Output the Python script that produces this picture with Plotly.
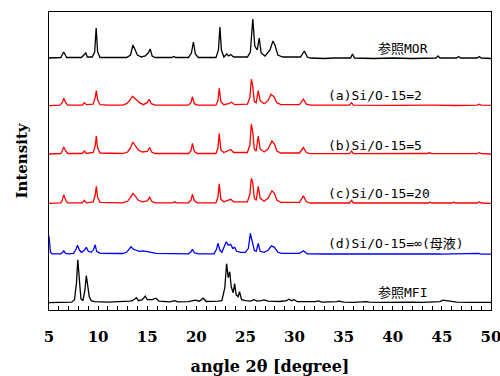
import plotly.graph_objects as go

# ---- data: 2theta (deg) and intensity above each pattern's baseline (a.u.) ----
mor_x = [5.0, 6.2, 6.5, 6.8, 8.3, 8.6, 8.75, 8.9, 9.4, 9.65, 9.8, 9.95, 10.2, 12.9, 13.3, 13.55, 13.7, 14.0, 14.4, 14.8,
         15.1, 15.3, 15.5, 15.8, 17.5, 17.7, 17.9, 19.2, 19.5, 19.7, 19.9, 20.2, 22.0, 22.25, 22.4, 22.55, 22.8, 23.1,
         23.3, 23.5, 23.8, 25.2, 25.5, 25.75, 25.95, 26.2, 26.4, 26.6, 27.0, 27.5, 27.8, 28.0, 28.3, 28.8, 30.6, 31.0,
         31.3, 31.6, 33.0, 34.0, 35.7, 35.9, 36.1, 38.0, 40.0, 42.0, 44.4, 44.6, 44.8, 46.5, 46.7, 46.9, 48.6, 48.8,
         49.0, 50.0]
mor_y = [0, 0.5, 6, 0.5, 0.5, 3, 5, 1, 1, 6, 30, 6, 0.5, 0.5, 3, 13, 10, 3, 1, 2,
         5, 9, 2, 0.5, 0.5, 1.5, 0.5, 0.5, 5, 16, 4, 0.5, 0.5, 8, 31, 8, 1, 4,
         2, 3.5, 1, 1, 6, 39, 12, 8, 20, 5, 2, 8, 17, 13, 3, 1, 1, 7,
         1, 0, -0.5, 0, 0, 4, 0, -0.5, 0, -0.5, 0, 2, 0, 0, 1.5, 0, 0, 1.5,
         0, -0.5]

a_x = [5.0, 6.1, 6.35, 6.5, 6.7, 6.9, 8.4, 8.6, 8.8, 9.5, 9.7, 9.82, 9.95, 10.2, 11.0, 12.5, 12.9, 13.2, 13.5, 13.7,
       13.9, 14.2, 14.6, 15.0, 15.2, 15.4, 15.8, 19.2, 19.45, 19.6, 19.8, 20.1, 22.0, 22.2, 22.33, 22.5, 22.8, 23.3,
       23.6, 23.9, 25.2, 25.45, 25.6, 25.75, 25.9, 26.1, 26.3, 26.5, 26.9, 27.3, 27.6, 27.9, 28.2, 28.6, 30.5, 30.9,
       31.2, 31.6, 35.6, 35.8, 36.0, 40.0, 43.0, 43.6, 44.0, 46.5, 48.6, 48.8, 49.0, 50.0]
a_y = [0, 0.5, 3, 7.5, 3, 0.5, 0.5, 3, 1, 1.5, 8, 15, 6, 1, 0.5, 0.5, 2, 5, 9.5, 8,
       6, 3, 1, 3, 6.5, 2, 0.5, 0.5, 3, 9, 2, 0.5, 0.5, 5, 17.5, 4, 1, 2,
       3.5, 1, 1.5, 8, 26.5, 19, 4, 3, 15, 5, 2, 5, 11.5, 9, 3, 1, 1, 6.5,
       1.5, 0.5, 0.5, 3, 0.5, 0.3, 0.3, 1.0, 0.5, 0.2, 0.5, 1.5, 0.5, 0.3]

b_x = [5.0, 6.2, 6.35, 6.5, 6.7, 6.9, 8.4, 8.6, 8.8, 9.5, 9.7, 9.82, 9.95, 10.2, 12.5, 13.0, 13.3, 13.55, 13.8, 14.1,
       14.5, 15.0, 15.25, 15.45, 15.8, 19.2, 19.45, 19.6, 19.8, 20.1, 22.0, 22.2, 22.33, 22.5, 22.8, 23.2, 23.5, 23.8,
       25.2, 25.45, 25.6, 25.75, 25.9, 26.1, 26.3, 26.5, 26.9, 27.3, 27.7, 27.95, 28.2, 28.6, 30.5, 30.9, 31.2, 31.6,
       35.6, 35.8, 36.0, 43.5, 43.7, 44.0, 46.0, 46.2, 46.4, 48.6, 48.8, 49.0, 50.0]
b_y = [0, 0.5, 3, 7, 3, 0.5, 0.5, 3, 0.5, 1.5, 8, 18, 6, 1, 0.5, 2, 6, 12, 8, 4,
       2, 2.5, 6.5, 2, 0.5, 0.5, 3, 10.5, 2.5, 0.5, 0.5, 6, 20.5, 4, 1.5, 3, 4.5, 1.5,
       1.5, 9, 30, 22, 5, 3, 18, 5, 2, 5, 13, 10, 3, 1, 1, 6.5, 1.5, 0.3,
       0.3, 3, 0.3, 0.5, 1.2, 0.3, 0.3, 1, 0.3, 0.3, 1.5, 0.3, 0]

c_x = [5.0, 6.2, 6.35, 6.5, 6.7, 6.9, 8.4, 8.6, 8.8, 9.5, 9.7, 9.82, 9.95, 10.2, 12.5, 13.0, 13.3, 13.55, 13.8, 14.1,
       14.5, 15.0, 15.25, 15.45, 15.8, 17.6, 17.8, 18.0, 19.2, 19.45, 19.6, 19.8, 20.1, 22.0, 22.2, 22.33, 22.5, 22.8,
       23.2, 23.5, 23.8, 25.2, 25.45, 25.6, 25.75, 25.9, 26.1, 26.3, 26.5, 26.9, 27.3, 27.7, 27.95, 28.2, 28.6, 30.5,
       30.9, 31.2, 31.6, 35.6, 35.8, 36.0, 43.6, 43.8, 44.0, 46.0, 46.2, 46.4, 48.6, 48.8, 49.0, 50.0]
c_y = [0, 0.5, 3, 8.5, 3, 0.5, 0.5, 3, 0.5, 1.5, 8, 17, 6, 1, 0.5, 2, 6, 10, 7, 3,
       1.5, 2.5, 6, 2, 0.5, 0.5, 1.5, 0.5, 0.5, 3, 9, 2.5, 0.5, 0.5, 6, 19.5, 4, 1.5,
       3, 4, 1.5, 1.5, 9, 25, 20, 5, 3, 17, 5, 2, 5, 12.5, 10, 3, 1, 1,
       7.5, 1.5, 0.3, 0.3, 3, 0.3, 0.3, 1.2, 0.3, 0.3, 1.2, 0.3, 0.3, 1.5, 0.3, 0]

d_x = [5.0, 5.05, 5.15, 5.3, 6.2, 6.4, 6.5, 6.7, 7.0, 7.5, 7.75, 7.9, 8.1, 8.3, 8.6, 8.8, 9.0, 9.3, 9.55, 9.7,
       9.85, 10.2, 11.5, 12.5, 12.9, 13.2, 13.35, 13.6, 13.9, 14.2, 14.6, 15.0, 15.4, 15.9, 17.5, 19.2, 19.45, 19.6,
       19.8, 20.2, 21.8, 22.05, 22.2, 22.4, 22.6, 22.85, 23.05, 23.25, 23.5, 23.7, 23.9, 24.1, 24.5, 25.0, 25.3, 25.5,
       25.7, 25.9, 26.1, 26.3, 26.5, 26.9, 27.3, 27.65, 27.95, 28.3, 28.7, 30.5, 30.9, 31.3, 33.0, 36.0, 40.0, 44.6,
       45.0, 48.7, 49.0, 50.0]
d_y = [18, 10, 2, 0.5, 0.5, 2, 3.5, 1, 0.5, 1, 5, 9, 4, 2, 4, 7, 3, 2, 5, 9.5,
       3, 1, 0.5, 0.8, 2, 6, 7.5, 5, 4, 3, 3.5, 3, 2, 1, 0.5, 0.5, 2.5, 5,
       1.5, 0.5, 0.5, 5, 11, 4, 2, 8, 12.5, 9, 10, 6, 7, 3, 2, 2, 6, 21,
       12, 4, 3, 11, 3, 2, 4, 8.5, 7, 2, 1, 1, 3.5, 0.5, 0.3, 0.5, 0.3, 0.5,
       0.2, 1, 0.2, 0.2]

mfi_x = [5.0, 7.3, 7.6, 7.8, 7.93, 8.05, 8.25, 8.45, 8.65, 8.8, 8.95, 9.1, 9.3, 9.6, 11.0, 12.5, 13.2, 13.5, 13.9, 14.1,
         14.5, 14.8, 15.0, 15.5, 15.9, 16.2, 16.6, 17.3, 17.8, 18.1, 19.2, 19.9, 20.3, 20.7, 21.0, 21.8, 22.2, 22.6,
         22.9, 23.08, 23.25, 23.4, 23.55, 23.75, 23.9, 24.05, 24.25, 24.4, 24.6, 25.0, 25.5, 25.85, 26.2, 26.6, 26.9,
         27.3, 28.0, 28.5, 29.2, 29.4, 29.7, 29.95, 30.3, 31.0, 32.1, 32.4, 32.8, 34.3, 34.5, 35.0, 36.0, 37.3, 37.6,
         39.0, 40.0, 41.5, 42.0, 43.0, 44.8, 45.1, 45.5, 45.9, 46.5, 48.0, 49.0, 50.0]
mfi_y = [0, 0.5, 3, 20, 43, 25, 4, 2, 12, 27, 18, 6, 2, 1, 0.5, 0.8, 1.5, 2, 5, 2,
         3, 6.5, 3, 3, 4.5, 1.5, 1, 0.8, 2, 0.8, 1, 2.5, 1.5, 4.5, 1.2, 1, 1.5, 2,
         15, 39, 25, 31, 16, 10, 19, 8, 6, 11, 3, 2, 1.5, 3, 1.5, 2, 2.8,
         1.5, 1, 1.2, 2, 3.5, 2, 3, 1, 1, 1, 1.8, 0.5, 1, 1.5, 0.5, 0.3, 1, 0.5,
         0.3, 0.5, 0.3, 0.5, 0.3, 1, 2.5, 1.8, 0.8, 0.5, 0.3, 0.6, 0.3]

series_names = ["参照MOR", "(a)Si/O-15=2", "(b)Si/O-15=5", "(c)Si/O-15=20", "(d)Si/O-15=∞(母液)", "参照MFI"]
series_x = [mor_x, a_x, b_x, c_x, d_x, mfi_x]
series_y = [mor_y, a_y, b_y, c_y, d_y, mfi_y]
offsets = [252, 204.3, 156, 106.7, 55.7, 7.3]
label_y = [262, 215, 165, 117, 67, 18]
label_x = [38.3, 33.2, 33.2, 33.2, 33.2, 38.3]
colors = ["#000000", "#ff0000", "#ff0000", "#ff0000", "#0000ff", "#000000"]
x_ticks = [5, 10, 15, 20, 25, 30, 35, 40, 45, 50]

fig = go.Figure()
for name, xs, ys, off, col in zip(series_names, series_x, series_y, offsets, colors):
    fig.add_trace(go.Scatter(x=xs, y=[v + off for v in ys], mode="lines", name=name,
                             line=dict(color=col, width=1.3), showlegend=False))

for name, lx, ly in zip(series_names, label_x, label_y):
    fig.add_annotation(x=lx, y=ly, xref="x", yref="y", text=name, showarrow=False,
                       xanchor="left", yanchor="middle",
                       font=dict(family="DejaVu Sans Mono, Noto Sans CJK JP", size=13, color="#000000"))

serif = "DejaVu Serif"
fig.update_layout(
    width=500, height=376,
    margin=dict(l=49, r=9, t=12, b=66),
    paper_bgcolor="white", plot_bgcolor="white",
    xaxis=dict(range=[5, 50], tickvals=x_ticks, ticktext=[str(v) for v in x_ticks], automargin=False,
               ticks="inside", ticklen=4, tickcolor="black", showgrid=False, zeroline=False,
               showline=True, linecolor="black", linewidth=1, mirror=True,
               minor=dict(dtick=1, tick0=5, ticks="inside", ticklen=4, tickcolor="black", showgrid=False),
               tickfont=dict(family=serif, size=15, color="black", weight="bold"),
               ticklabelstandoff=13, ticklabeloverflow="allow",
               title=dict(text="angle 2θ [degree]", standoff=17,
                          font=dict(family=serif, size=16, color="black", weight="bold"))),
    yaxis=dict(range=[0, 298], showticklabels=False, ticks="", showgrid=False, zeroline=False,
               showline=True, linecolor="black", linewidth=1, mirror=True, automargin=False,
               title=dict(text="Intensity", standoff=16,
                          font=dict(family=serif, size=15, color="black", weight="bold"))),
)

fig.write_html("out.html")
